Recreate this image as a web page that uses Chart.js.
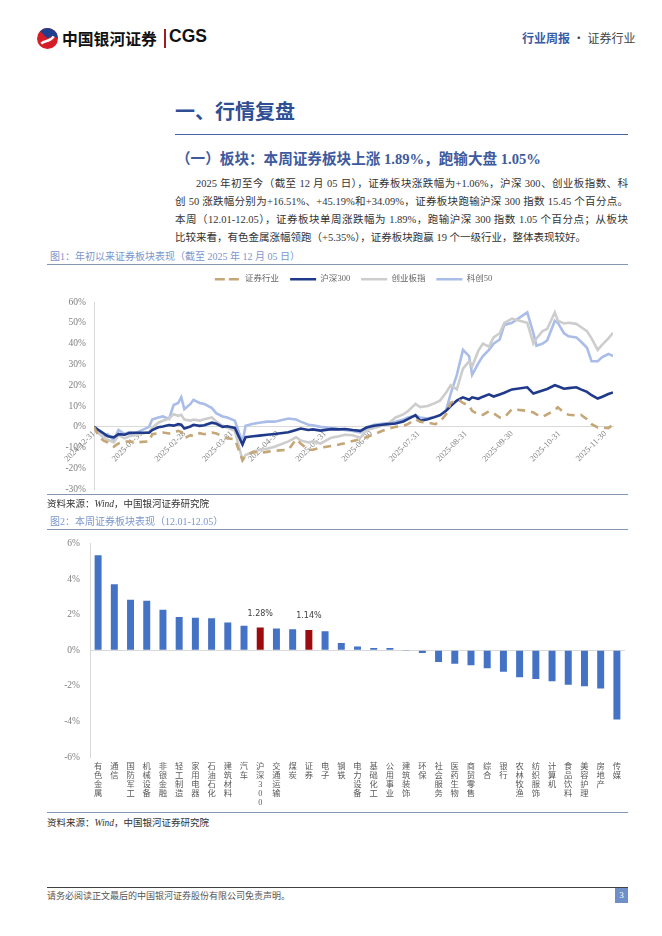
<!DOCTYPE html>
<html lang="zh-CN">
<head>
<meta charset="utf-8">
<script src="https://cdn.jsdelivr.net/npm/chart.js@4.4.1/dist/chart.umd.min.js"></script>
<style>
  body { margin:0; width:662px; height:936px; background:#fff; position:relative; overflow:hidden;
         font-family:"Liberation Serif","Noto Sans CJK SC",serif; color:#333; }
  .a { position:absolute; white-space:nowrap; }
  .rule { position:absolute; height:0; }
  .p { position:absolute; left:175px; width:453px; font-size:10.5px; line-height:18px; text-align:justify; text-align-last:justify; white-space:nowrap; }
  .cap { position:absolute; left:50px; font-size:10px; color:#7b96cc; }
  .src { position:absolute; left:47px; font-size:9.5px; color:#333; }
  .src i { font-family:"Liberation Serif",serif; }
</style>
</head>
<body>

<!-- 页眉 -->
<svg class="a" style="left:36px;top:27px" width="23" height="23" viewBox="0 0 22 22">
  <circle cx="11" cy="11" r="10" fill="#d51c29"/>
  <path d="M4 4 A10 10 0 0 1 21 11 C17 8 13 9 11 11 Z" fill="#1f3e8e"/>
  <path d="M5 16 C9 12 13 15 17 9" stroke="#fff" stroke-width="2.4" fill="none"/>
</svg>
<div class="a" style="left:62px;top:27px;font:bold 15.8px 'Noto Sans CJK SC';color:#111">中国银河证券</div>
<div class="a" style="left:164px;top:29px;width:1.5px;height:19px;background:#a01c24"></div>
<div class="a" style="left:169px;top:26px;font:bold 17.5px 'Liberation Sans';color:#111">CGS</div>
<div class="a" style="left:522px;top:29px;font-size:12px;font-family:'Noto Sans CJK SC'"><b style="color:#3b5ba5">行业周报</b><span style="color:#444"> · 证券行业</span></div>

<!-- 标题 -->
<div class="a" style="left:175px;top:96px;font:bold 20px 'Noto Sans CJK SC';color:#2f4f95">一、行情复盘</div>
<div class="rule" style="left:175px;top:134px;width:453px;border-top:1px solid #4a63a0"></div>
<div class="a" style="left:176px;top:147px;font:bold 14.6px 'Liberation Serif','Noto Sans CJK SC';color:#3d5a9e">（一）板块：本周证券板块上涨 1.89%，跑输大盘 1.05%</div>

<div class="p" style="top:175px;padding-left:21px;width:432px">2025 年初至今（截至 12 月 05 日），证券板块涨跌幅为+1.06%，沪深 300、创业板指数、科</div>
<div class="p" style="top:193px">创 50 涨跌幅分别为+16.51%、+45.19%和+34.09%，证券板块跑输沪深 300 指数 15.45 个百分点。</div>
<div class="p" style="top:211px">本周（12.01-12.05），证券板块单周涨跌幅为 1.89%，跑输沪深 300 指数 1.05 个百分点；从板块</div>
<div class="p" style="top:229px;text-align-last:left">比较来看，有色金属涨幅领跑（+5.35%），证券板块跑赢 19 个一级行业，整体表现较好。</div>

<!-- 图1 -->
<div class="cap" style="top:248px">图1：年初以来证券板块表现（截至 2025 年 12 月 05 日）</div>
<div class="a" style="left:47px;top:264px;width:581px;height:239px"><canvas id="lineChart"></canvas></div>
<div class="rule" style="left:47px;top:264px;width:581px;border-top:1.5px solid #8497b0"></div>
<div class="rule" style="left:47px;top:494px;width:581px;border-top:1.5px solid #8497b0"></div>
<div class="src" style="top:496px;background:#fff;padding-right:4px">资料来源：<i>Wind</i>，中国银河证券研究院</div>

<!-- 图2 -->
<div class="cap" style="top:513px">图2：本周证券板块表现（12.01-12.05）</div>
<div class="a" style="left:47px;top:528px;width:581px;height:283px"><canvas id="barChart"></canvas></div>
<div class="rule" style="left:47px;top:529px;width:581px;border-top:1.5px solid #8497b0"></div>
<div class="rule" style="left:47px;top:812px;width:581px;border-top:1.5px solid #8497b0"></div>
<div class="src" style="top:815px">资料来源：<i>Wind</i>，中国银河证券研究院</div>

<!-- 页脚 -->
<div class="rule" style="left:47px;top:887px;width:581px;border-top:1.5px solid #404040"></div>
<div class="a" style="left:47px;top:889px;font-size:9px;color:#555">请务必阅读正文最后的中国银河证券股份有限公司免责声明。</div>
<div class="a" style="left:615px;top:888px;width:13px;height:15px;background:#6e8fc7;color:#fff;font-size:9px;text-align:center;line-height:15px">3</div>

<script>
// 图1 数据（累计涨跌幅，%）
const dates = [
  '2024-12-31','2025-01-03','2025-01-06','2025-01-09','2025-01-13','2025-01-16','2025-01-20','2025-01-23','2025-01-27',
  '2025-02-05','2025-02-07','2025-02-11','2025-02-14','2025-02-18','2025-02-21','2025-02-24','2025-02-26','2025-02-28',
  '2025-03-04','2025-03-06','2025-03-10','2025-03-13','2025-03-18','2025-03-21','2025-03-25','2025-03-28',
  '2025-04-02','2025-04-07','2025-04-09','2025-04-14','2025-04-18','2025-04-23','2025-04-28',
  '2025-05-07','2025-05-12','2025-05-15','2025-05-20','2025-05-23','2025-05-28',
  '2025-06-04','2025-06-09','2025-06-13','2025-06-18','2025-06-23','2025-06-27',
  '2025-07-02','2025-07-07','2025-07-11','2025-07-16','2025-07-21','2025-07-24','2025-07-29',
  '2025-08-01','2025-08-06','2025-08-11','2025-08-14','2025-08-18','2025-08-21','2025-08-25','2025-08-27','2025-08-29',
  '2025-09-02','2025-09-04','2025-09-08','2025-09-11','2025-09-15','2025-09-18','2025-09-22','2025-09-25','2025-09-30',
  '2025-10-10','2025-10-14','2025-10-16','2025-10-20','2025-10-23','2025-10-28','2025-10-30',
  '2025-11-03','2025-11-06','2025-11-11','2025-11-14','2025-11-18','2025-11-21','2025-11-25','2025-11-28',
  '2025-12-02','2025-12-05'
];
const securities = [
  0, -4.5, -6.5, -7.5, -9.5, -8.0, -7.0, -7.0, -7.5,
  -7.0, -3.5, -3.0, -2.7, -3.2, -2.8, -1.9, -2.5, -5.5,
  -4.0, -4.5, -3.0, -3.5, -2.7, -3.2, -4.5, -5.5,
  -6.0, -16.0, -14.0, -12.0, -12.5, -12.0, -11.5,
  -11.0, -6.0, -8.0, -11.0, -11.0, -10.0,
  -9.2, -8.5, -7.8, -6.8, -6.0, -5.0,
  -3.5, -2.0, -1.0, 0.0, 0.5, 1.3, 3.7,
  2.5, 2.0, 1.3, 2.5, 6.0, 11.5, 13.0, 12.6, 11.5,
  10.2, 7.7, 6.0, 5.8, 7.5, 6.5, 4.5, 4.5, 8.5,
  7.7, 6.9, 6.0, 4.8, 6.0, 8.0, 9.4,
  6.9, 5.8, 5.5, 5.8, 3.7, 1.3, -0.3, -0.3,
  -0.6, 1.06
];
const hs300 = [
  0, -1.5, -3.0, -4.5, -5.0, -3.5, -3.8, -3.0, -2.8,
  -2.8, -1.5, -0.2, 0.2, 0.9, 0.6, 1.3, 1.0, -0.8,
  0.2, 1.0, 0.5, 0.8, 2.0, 1.5, 0.0, 0.3,
  -0.5, -8.5, -5.0, -4.5, -4.2, -3.8, -3.4,
  -2.6, -1.5, -0.8, -1.5, -1.2, -1.8,
  -1.1, -1.2, -1.0, -1.5, -1.9, -0.3,
  0.5, 1.0, 1.3, 1.6, 2.6, 3.7, 5.6,
  2.9, 3.7, 4.8, 5.6, 7.7, 10.0, 12.6, 13.4, 14.2,
  13.0, 14.2, 13.5, 14.5, 15.6, 14.6, 15.6, 16.4, 18.0,
  19.0, 16.0, 16.5, 17.5, 18.2, 20.0, 19.5,
  18.3, 18.6, 19.0, 18.0, 16.8, 15.2, 13.6, 14.5,
  15.8, 16.51
];
const chinext = [
  0, -3.0, -5.0, -6.2, -7.5, -4.0, -5.5, -4.5, -4.0,
  -2.5, -0.5, 2.0, 2.9, 4.0, 6.1, 5.3, 5.8, 3.5,
  3.0, 3.5, 3.0, 3.7, 4.5, 2.5, 0.5, -0.3,
  -1.9, -16.0, -13.5, -12.0, -11.0, -10.5, -9.5,
  -7.0, -5.0, -6.5, -7.5, -7.0, -8.0,
  -5.2, -4.5, -3.8, -4.0, -5.2, -1.5,
  -0.5, 0.5, 1.5, 4.5, 6.0, 7.5, 11.0,
  9.5, 10.0, 11.5, 12.6, 16.5, 20.0, 18.0, 23.0, 28.0,
  31.5, 29.0, 36.5, 40.0, 38.5, 43.0, 45.0, 50.0, 52.0,
  50.0, 40.0, 42.5, 46.0, 47.0, 55.0, 51.0,
  49.7, 50.0, 49.5, 48.0, 46.0, 42.5, 37.0, 39.5,
  42.5, 45.19
];
const star50 = [
  0, -2.5, -5.0, -3.5, -6.5, -1.5, -3.5, -2.5, -3.0,
  0.0, 3.5, 4.5, 5.0, 3.8, 10.5, 11.5, 14.2, 8.5,
  11.0, 13.0, 11.5, 11.0, 9.0, 6.5, 5.0, 4.5,
  3.0, -7.5, 0.5, 1.5, 2.0, 2.5, 2.5,
  4.0, 3.5, 2.5, 1.0, 0.8, 0.0,
  -0.6, -1.0, -1.5, -2.0, -2.7, -0.3,
  1.0, 1.5, 1.8, 2.5, 3.5, 4.5, 5.3,
  4.5, 4.0, 5.0, 5.5, 8.0, 16.0, 25.0, 31.0, 37.0,
  34.0, 25.0, 30.5, 34.0, 37.0, 40.0, 42.0, 49.0, 50.0,
  55.0, 45.0, 39.0, 40.0, 41.5, 51.0, 50.0,
  45.0, 43.5, 43.0, 41.0, 38.0, 31.5, 31.5, 33.5,
  35.0, 34.09
];
const monthTicks = ['2024-12-31','2025-01-31','2025-02-28','2025-03-31','2025-04-30','2025-05-31',
  '2025-06-30','2025-07-31','2025-08-31','2025-09-30','2025-10-31','2025-11-30'];

// 图2 数据（周涨跌幅，%）
const industries = ['有色金属','通信','国防军工','机械设备','非银金融','轻工制造','家用电器','石油石化','建筑材料','汽车',
  '沪深300','交通运输','煤炭','证券','电子','钢铁','电力设备','基础化工','公用事业','建筑装饰','环保',
  '社会服务','医药生物','商贸零售','综合','银行','农林牧渔','纺织服饰','计算机','食品饮料','美容护理','房地产','传媒'];
const weekChange = [5.35, 3.72, 2.84, 2.79, 2.28, 1.87, 1.83, 1.81, 1.57, 1.38,
  1.28, 1.23, 1.19, 1.14, 1.08, 0.41, 0.22, 0.13, 0.13, -0.03, -0.15,
  -0.65, -0.75, -0.84, -1.0, -1.2, -1.51, -1.61, -1.74, -1.93, -2.02, -2.15, -3.89];
const highlight = ['沪深300', '证券'];

const t0 = Date.UTC(2024, 11, 31);
const dayOf = s => (Date.parse(s + 'T00:00:00Z') - t0) / 86400000;
const pts = arr => dates.map((d, i) => ({ x: dayOf(d), y: arr[i] }));
const tickDays = monthTicks.map(dayOf);

const serif = "'Liberation Serif','Noto Sans CJK SC', serif";

// 图例下方留白，让 60% 落在固定位置
const legendSpace = {
    id: 'legendSpace',
    beforeInit(chart) {
        const fit = chart.legend.fit;
        chart.legend.fit = function () { fit.call(this); this.height = 38; };
    }
};

// 图1：年初以来走势
const lineChart = new Chart(document.getElementById('lineChart'), {
    type: 'line',
    data: {
        datasets: [
            { label: '证券行业', data: pts(securities), borderColor: '#c4a677', borderDash: [8, 6], borderWidth: 2.6 },
            { label: '沪深300', data: pts(hs300), borderColor: '#1f3a8a', borderWidth: 2.6 },
            { label: '创业板指', data: pts(chinext), borderColor: '#cdcdcd', borderWidth: 2.6 },
            { label: '科创50', data: pts(star50), borderColor: '#a9bde8', borderWidth: 2.6 }
        ]
    },
    plugins: [legendSpace],
    options: {
        responsive: true,
        maintainAspectRatio: false,
        animation: false,
        elements: { point: { radius: 0 }, line: { tension: 0, borderCapStyle: 'butt' } },
        layout: { padding: { top: 0, right: 15, bottom: 0, left: 0 } },
        plugins: {
            tooltip: { enabled: false },
            legend: {
                position: 'top',
                fullSize: false,
                labels: {
                    boxWidth: 26, boxHeight: 0, padding: 11,
                    color: '#666', font: { size: 8.5, family: serif }
                }
            }
        },
        scales: {
            x: {
                type: 'linear',
                position: { y: 0 },
                min: 0, max: dayOf(dates[dates.length - 1]),
                afterBuildTicks: s => { s.ticks = tickDays.map(v => ({ value: v })); },
                afterFit: s => { s.height = 0; },
                grid: { display: false, drawTicks: false },
                border: { display: true, color: '#d9d9d9', width: 1 },
                ticks: {
                    autoSkip: false, maxRotation: 45, minRotation: 45, padding: 2,
                    color: '#7f7f7f', font: { size: 8.5, family: serif },
                    callback: v => monthTicks[tickDays.indexOf(v)]
                }
            },
            y: {
                min: -30, max: 60,
                afterFit: s => { s.width = 47; },
                grid: { display: false, drawTicks: false },
                border: { display: true, color: '#d9d9d9', width: 1 },
                ticks: {
                    stepSize: 10, padding: 8,
                    color: '#7f7f7f', font: { size: 9.5, family: serif },
                    callback: v => v + '%'
                }
            }
        }
    }
});

// 柱上标注（沪深300、证券）
const barLabels = {
    id: 'barLabels',
    afterDatasetsDraw(chart) {
        const ctx = chart.ctx;
        const meta = chart.getDatasetMeta(0);
        ctx.save();
        ctx.font = "8px 'DejaVu Sans'";
        ctx.fillStyle = '#404040';
        ctx.textAlign = 'center';
        ctx.textBaseline = 'bottom';
        industries.forEach((name, i) => {
            if (!highlight.includes(name)) return;
            const bar = meta.data[i];
            ctx.fillText(weekChange[i].toFixed(2) + '%', bar.x, bar.y - 10);
        });
        ctx.restore();
    }
};

// 图2：本周行业涨跌幅
const barChart = new Chart(document.getElementById('barChart'), {
    type: 'bar',
    data: {
        labels: industries.map(s => s.split('')),
        datasets: [{
            data: weekChange,
            backgroundColor: industries.map(s => highlight.includes(s) ? '#9e0b0f' : '#4472c4'),
            barPercentage: 0.43,
            categoryPercentage: 1.0
        }]
    },
    plugins: [barLabels],
    options: {
        responsive: true,
        maintainAspectRatio: false,
        animation: false,
        layout: { padding: { top: 0, right: 3, bottom: 0, left: 0 } },
        plugins: {
            tooltip: { enabled: false },
            legend: { display: false }
        },
        scales: {
            x: {
                afterFit: s => { s.height = 54; },
                grid: { display: false, drawTicks: false },
                border: { display: false },
                ticks: {
                    autoSkip: false, maxRotation: 0, minRotation: 0, padding: 5,
                    color: '#595959', font: { size: 8.3, family: serif, lineHeight: 1.1 }
                }
            },
            y: {
                min: -6, max: 6,
                afterFit: s => { s.width = 43; },
                grid: {
                    drawTicks: false,
                    color: c => c.tick && c.tick.value === 0 ? '#d9d9d9' : 'rgba(0,0,0,0)'
                },
                border: { display: true, color: '#d9d9d9', width: 1 },
                ticks: {
                    stepSize: 2, padding: 10,
                    color: '#7f7f7f', font: { size: 9.5, family: serif },
                    callback: v => v + '%'
                }
            }
        }
    }
});
</script>
</body>
</html>
